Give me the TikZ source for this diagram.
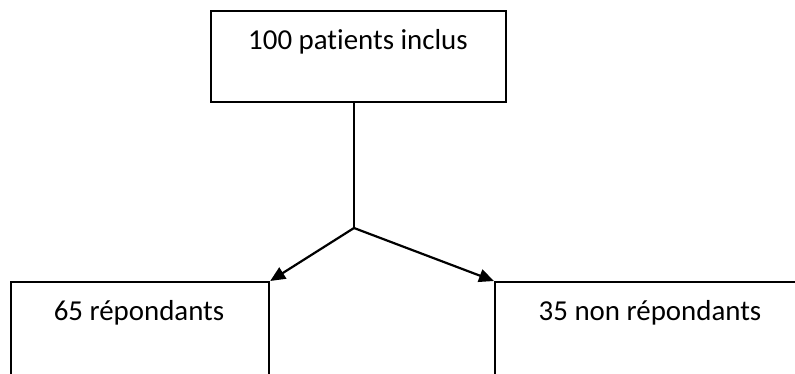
\documentclass[tikz,border=0pt]{standalone}
\usepackage{fontspec}
\setmainfont[Ligatures={NoCommon,NoRare}]{Carlito}
\usetikzlibrary{arrows.meta}
\begin{document}
\begin{tikzpicture}[x=1pt,y=-1pt,
  box/.style={draw=black,line width=2.2pt,rectangle,inner sep=0pt,anchor=north west},
  lbl/.style={anchor=base,inner sep=0pt,font=\fontsize{28.9}{34}\selectfont},
  link/.style={line width=2.2pt},
  arr/.style={line width=2.2pt,-{Triangle[length=15pt,width=13pt]}}]
  \useasboundingbox (0,0) rectangle (795,374);
  \clip (0,0) rectangle (795,374);
  % top box
  \node[box,minimum width=295pt,minimum height=91pt] (top) at (210,10) {};
  \node[lbl] (toptxt) at (358,50) {100 patients inclus};
  % bottom boxes (run past the lower and right edges)
  \node[box,minimum width=258pt,minimum height=140pt] (left) at (10,281) {};
  \node[lbl] (lefttxt) at (139,320) {65 répondants};
  \node[box,minimum width=312pt,minimum height=140pt] (right) at (494,281) {};
  \node[lbl] (righttxt) at (650,320) {35 non répondants};
  % connectors
  \coordinate (split) at (354,228);
  \draw[link] (top.south -| split) -- (split);
  \draw[arr] (split) -- (left.north east);
  \draw[arr] (split) -- (right.north west);
\end{tikzpicture}
\end{document}
